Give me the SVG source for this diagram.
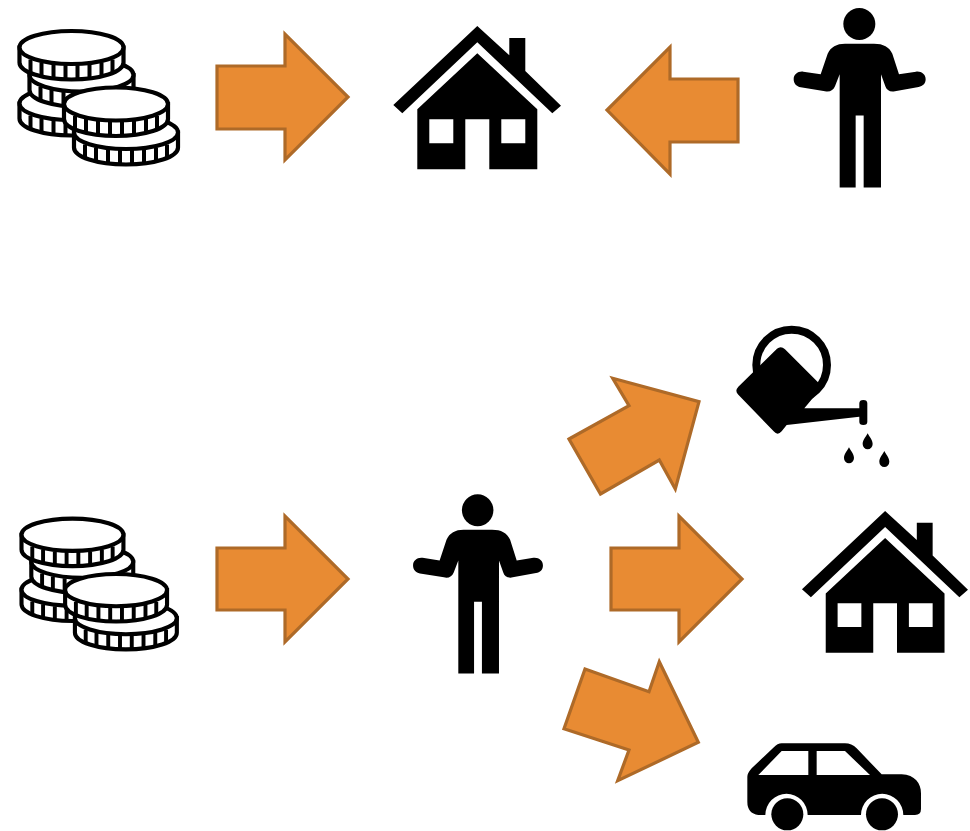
<svg xmlns="http://www.w3.org/2000/svg" xmlns:xlink="http://www.w3.org/1999/xlink" width="970" height="831" viewBox="0 0 970 831">
<style>
.arrow{fill:#E88B33;stroke:#AE6A28;stroke-width:3.2;stroke-linejoin:miter}
.k{fill:#000}
.coin{fill:#fff;stroke:#000;stroke-width:4.2}
.rib{fill:none;stroke:#000;stroke-width:4}
</style>
<defs>
<g id="coin">
<path class="coin" d="M-52 0V15C-52 24.5 -29 32 0 32S52 24.5 52 15V0Z"/>
<path class="rib" d="M-41 12V26M-30 15V29M-18 17V31M-6 17V32M6 17V32M18 17V31M30 15V29M41 12V26"/>
<ellipse class="coin" cx="0" cy="0" rx="52" ry="16.5"/>
</g>
<g id="coins">
<use xlink:href="#coin" href="#coin" x="71.5" y="103.5"/>
<use xlink:href="#coin" href="#coin" x="81.5" y="75"/>
<use xlink:href="#coin" href="#coin" x="71.5" y="47.5"/>
<use xlink:href="#coin" href="#coin" x="126" y="132.5"/>
<use xlink:href="#coin" href="#coin" x="116" y="104"/>
</g>
<g id="house">
<path class="k" d="M477.3 26L509.3 55.3V38H525.3V71L561 105.7L552.3 113.3L477.3 42.3L402.3 113.3L393.3 105Z"/>
<path class="k" fill-rule="evenodd" d="M477.3 53.3L537.3 109.3V169.3H489.3V119.3H465.3V169.3H417.3V109.3ZM429.3 119.3V143.3H453.3V119.3ZM501.3 119.3V143.3H525.3V119.3Z"/>
</g>
<g id="person">
<circle class="k" cx="238" cy="71" r="48"/>
<path class="k" d="M195 130H282C310 130 328 140 337 160L357 222L408 214C424 212 437 222 437 237C437 250 428 258 416 260L345 273C330 276 320 270 316 258L303 222V562H251V346H227V562H179V222L165 258C160 270 150 276 135 273L62 261C50 259 41 250 41 237C41 222 54 212 70 214L122 222L143 160C152 140 170 130 195 130Z"/>
</g>
</defs>
<g id="connectors">
<polygon class="arrow" points="217,66 285,66 285,34 348,97 285,160 285,129 217,129"/>
<polygon class="arrow" points="738,79 670,79 670,47 607,110 670,174 670,142 738,142"/>
<polygon class="arrow" points="217,548 285,548 285,516 348,579 285,642 285,610 217,610"/>
<polygon class="arrow" points="611,548 679,548 679,516 742,579 679,642 679,610 611,610"/>
<polygon class="arrow" points="569,439 629,405.7 612.7,378.3 699,401.7 675.3,489 659.3,460 600.5,494"/>
<polygon class="arrow" points="585,669 649,691.7 659.3,661.7 698.3,742.3 617.7,780.7 629,750 564,728.7"/>
</g>
<g id="coins-top"><use xlink:href="#coins" href="#coins"/></g>
<g id="house-top"><use xlink:href="#house" href="#house"/></g>
<g id="person-top"><use xlink:href="#person" href="#person" transform="translate(780 0.3) scale(0.3333)"/></g>
<g id="coins-bottom"><use xlink:href="#coins" href="#coins" transform="translate(2.4 488.2) scale(0.98)"/></g>
<g id="person-bottom"><use xlink:href="#person" href="#person" transform="translate(399.6 486.6) scale(0.328 0.3325)"/></g>
<g id="watering-can" transform="translate(725 320) scale(0.3333)">
<circle cx="200" cy="135" r="106" fill="none" stroke="#000" stroke-width="24"/>
<path class="k" d="M156 86Q168 76 180 88L282 190L292 200L238 265H403V250Q403 240 415 240T427 250V305Q427 315 415 315T403 305V290L185 315L170 334Q158 348 146 334L40 224Q28 213 40 200Z"/>
<path class="k" d="M428 340C436 354 443 362 443 372A15 16 0 0 1 413 372C413 362 420 354 428 340Z"/>
<path class="k" d="M372 382C380 396 387 404 387 414A15 16 0 0 1 357 414C357 404 364 396 372 382Z"/>
<path class="k" d="M478 393C486 407 493 415 493 425A15 16 0 0 1 463 425C463 415 470 407 478 393Z"/>
</g>
<g id="house-bottom"><use xlink:href="#house" href="#house" transform="translate(412.6 485.2) scale(0.99)"/></g>
<g id="car" transform="translate(735 735) scale(0.3333)">
<path class="k" fill-rule="evenodd" d="M140 25H330Q350 25 365 40L440 118H500C540 120 558 145 558 175V222Q558 240 540 240H505A63 63 0 0 0 378 240H218A63 63 0 0 0 91 240H70Q37 235 37 200V125Q37 115 50 100L115 38Q128 25 140 25ZM70 120H220V48H140ZM245 48V120H405L330 48Z"/>
<circle class="k" cx="157" cy="238" r="48"/>
<circle class="k" cx="441" cy="238" r="48"/>
</g>
</svg>
